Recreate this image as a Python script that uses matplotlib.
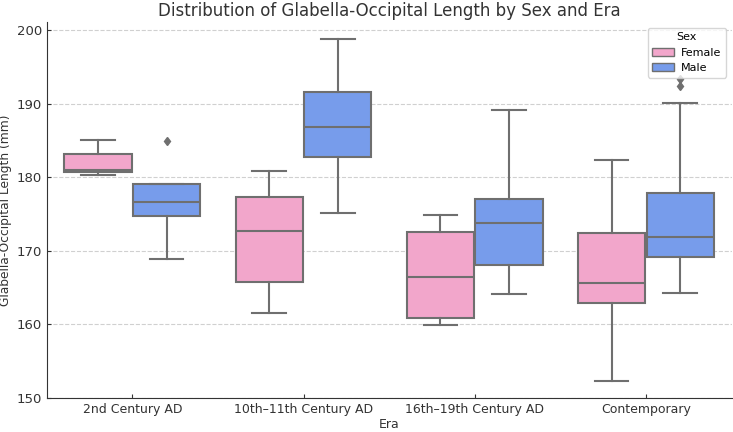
import matplotlib
matplotlib.use("Agg")
import matplotlib.pyplot as plt
from matplotlib.patches import Patch

eras = ["2nd Century AD", "10th\u201311th Century AD", "16th\u201319th Century AD", "Contemporary"]
sexes = ["Female", "Male"]
colors = {"Female": "#F2A6CB", "Male": "#779CEB"}
line_color = "#6F6F6F"

# box statistics per era
female_whislo = [180.3, 161.5, 159.9, 152.3]
female_q1 = [180.7, 165.8, 160.8, 162.9]
female_med = [181.0, 172.7, 166.4, 165.6]
female_q3 = [183.1, 177.3, 172.5, 172.4]
female_whishi = [185.1, 180.9, 174.8, 182.3]
female_fliers = [[], [], [], []]

male_whislo = [168.9, 175.1, 164.1, 164.3]
male_q1 = [174.7, 182.7, 168.1, 169.2]
male_med = [176.6, 186.8, 173.7, 171.8]
male_q3 = [179.1, 191.6, 177.0, 177.8]
male_whishi = [179.1, 198.8, 189.1, 190.1]
male_fliers = [[184.9], [], [], [192.4, 193.4]]

stats = {
    "Female": (female_whislo, female_q1, female_med, female_q3, female_whishi, female_fliers),
    "Male": (male_whislo, male_q1, male_med, male_q3, male_whishi, male_fliers),
}

fig = plt.figure(figsize=(7.33, 4.32), dpi=100)
ax = fig.add_axes([0.0637, 0.0794, 0.9343, 0.8697])

width = 0.392
offsets = {"Female": -0.2, "Male": 0.2}
for sex in sexes:
    lo, q1, med, q3, hi, fl = stats[sex]
    bstats = []
    for i in range(len(eras)):
        bstats.append({"whislo": lo[i], "q1": q1[i], "med": med[i], "q3": q3[i],
                       "whishi": hi[i], "fliers": fl[i]})
    pos = [i + offsets[sex] for i in range(len(eras))]
    ax.bxp(bstats, positions=pos, widths=width, capwidths=width / 2,
           patch_artist=True, manage_ticks=False,
           boxprops=dict(facecolor=colors[sex], edgecolor=line_color, linewidth=1.5),
           medianprops=dict(color=line_color, linewidth=1.5),
           whiskerprops=dict(color=line_color, linewidth=1.5),
           capprops=dict(color=line_color, linewidth=1.5),
           flierprops=dict(marker="d", markerfacecolor=line_color, markeredgecolor=line_color,
                           markersize=4.5))

ax.set_xlim(-0.5, 3.5)
ax.set_ylim(150, 201.1)
ax.set_xticks(range(len(eras)))
ax.set_xticklabels(eras)
ax.set_yticks([150, 160, 170, 180, 190, 200])
ax.yaxis.grid(True, linestyle="--", color="#D0D0D0", linewidth=0.8)
ax.set_axisbelow(True)
for s in ["top", "right"]:
    ax.spines[s].set_visible(False)
for s in ["left", "bottom"]:
    ax.spines[s].set_color("#333333")
ax.tick_params(direction="in", labelsize=9, colors="#333333", length=3)
ax.tick_params(axis="y", labelsize=9.5)
ax.set_xlabel("Era", fontsize=9, color="#333333", labelpad=2)
ax.set_ylabel("Glabella-Occipital Length (mm)", fontsize=8.8, color="#333333", labelpad=3)
ax.set_title("Distribution of Glabella-Occipital Length by Sex and Era", fontsize=12,
             color="#333333", pad=4)

handles = [Patch(facecolor=colors[s], edgecolor=line_color, label=s) for s in sexes]
leg = ax.legend(handles=handles, title="Sex", loc="upper right", fontsize=8, title_fontsize=8,
                bbox_to_anchor=(1.0, 1.0), borderpad=0.4, handletextpad=0.6)

fig.savefig("out.png", dpi=100)
